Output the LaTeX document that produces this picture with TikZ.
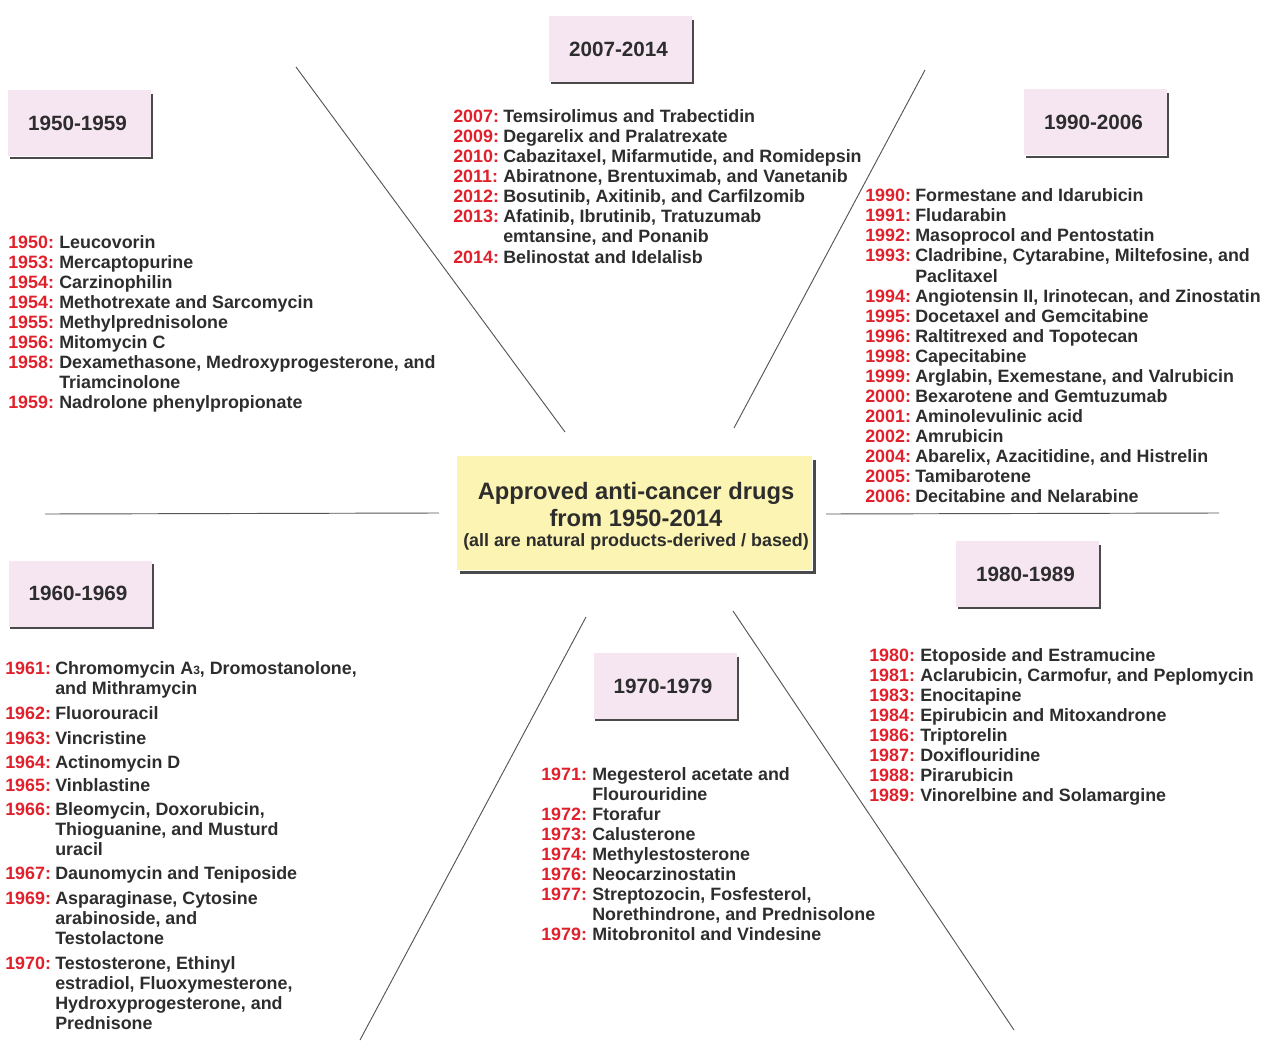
\documentclass[tikz,border=0pt]{standalone}
\usepackage{fontspec}
\setmainfont{Liberation Sans}
\definecolor{txt}{HTML}{2D2D2D}
\definecolor{yred}{HTML}{E0202B}
\definecolor{pinkbox}{HTML}{F6E6F2}
\definecolor{yelbox}{HTML}{FBF4B2}
\definecolor{shade}{HTML}{4A4A4A}
\definecolor{rule}{HTML}{555555}
\tikzset{
  yr/.style={anchor=base west, inner sep=0pt, yshift=-0.75pt, text=yred, font=\fontsize{13.4pt}{16pt}\selectfont\bfseries},
  nm/.style={anchor=base west, inner sep=0pt, yshift=-0.75pt, text=txt, font=\fontsize{13.4pt}{16pt}\selectfont\bfseries},
  period/.style={fill=pinkbox, draw=none, minimum width=107.25pt, minimum height=49.5pt, inner sep=0pt, text=txt, font=\fontsize{15.5pt}{18pt}\selectfont\bfseries},
  centre/.style={fill=yelbox, draw=none, minimum width=266.25pt, minimum height=85.5pt, inner sep=0pt},
  shadow/.style={draw=shade, line width=1.6pt},
  ray/.style={draw=rule, line width=0.7pt},
  title/.style={anchor=base, inner sep=0pt, text=txt, font=\fontsize{17.8pt}{20pt}\selectfont\bfseries},
}
\newcommand\entry[6]{%
  \node[yr] (#1y) at (#2,#4) {#5:};
  \node[nm] (#1) at (#3,#4) {#6};}
\newcommand\cont[4]{\node[nm] (#1) at (#2,#3) {#4};}
\begin{document}
\begin{tikzpicture}[x=0.75pt, y=-0.75pt]
\useasboundingbox (0,0) rectangle (1262,1041);

% radial lines
\draw[ray] (296,67) -- (565,432);
\draw[ray] (925,70) -- (734,428);
\draw[ray] (45,514) -- (439,513);
\draw[ray] (826,514) -- (1219,513);
\draw[ray] (586,617) -- (360,1040);
\draw[ray] (733,611) -- (1014,1030);

% period boxes
\foreach \n/\x/\y/\t in {pA/620.5/49/2007-2014, pB/79.5/123.5/1950-1959, pC/1095.5/122.5/1990-2006, pD/80/593.5/1960-1969, pE/1027.5/574/1980-1989, pF/665/686/1970-1979}{
  \node[period] (\n) at (\x,\y) {\hspace*{-3pt}\t};
  \draw[shadow] ([shift={(1,4)}]\n.north east) -- ([shift={(1,1)}]\n.south east) -- ([shift={(2,1)}]\n.south west);
}

% centre box
\node[centre] (c) at (634.5,513) {};
\draw[shadow, line width=2.2pt] ([shift={(2,4)}]c.north east) -- ([shift={(2,2)}]c.south east) -- ([shift={(3,2)}]c.south west);
\node[title] (c1) at (636,499) {Approved anti-cancer drugs};
\node[title] (c2) at (636,526) {from 1950-2014};
\node[title, font=\fontsize{13.4pt}{16pt}\selectfont\bfseries] (c3) at (636,546) {(all are natural products-derived / based)};

% 2007-2014
\entry{a1}{453}{503}{122}{2007}{Temsirolimus and Trabectidin}
\entry{a2}{453}{503}{142}{2009}{Degarelix and Pralatrexate}
\entry{a3}{453}{503}{162}{2010}{Cabazitaxel, Mifarmutide, and Romidepsin}
\entry{a4}{453}{503}{182}{2011}{Abiratnone, Brentuximab, and Vanetanib}
\entry{a5}{453}{503}{202}{2012}{Bosutinib, Axitinib, and Carfilzomib}
\entry{a6}{453}{503}{222}{2013}{Afatinib, Ibrutinib, Tratuzumab}
\cont{a6b}{503}{242}{emtansine, and Ponanib}
\entry{a7}{453}{503}{262}{2014}{Belinostat and Idelalisb}

% 1950-1959
\entry{b1}{8}{59}{247}{1950}{Leucovorin}
\entry{b2}{8}{59}{267}{1953}{Mercaptopurine}
\entry{b3}{8}{59}{287}{1954}{Carzinophilin}
\entry{b4}{8}{59}{307}{1954}{Methotrexate and Sarcomycin}
\entry{b5}{8}{59}{327}{1955}{Methylprednisolone}
\entry{b6}{8}{59}{347}{1956}{Mitomycin C}
\entry{b7}{8}{59}{367}{1958}{Dexamethasone, Medroxyprogesterone, and}
\cont{b7b}{59}{387}{Triamcinolone}
\entry{b8}{8}{59}{407}{1959}{Nadrolone phenylpropionate}

% 1990-2006
\entry{c01}{865}{915}{201}{1990}{Formestane and Idarubicin}
\entry{c02}{865}{915}{221}{1991}{Fludarabin}
\entry{c03}{865}{915}{241}{1992}{Masoprocol and Pentostatin}
\entry{c04}{865}{915}{261}{1993}{Cladribine, Cytarabine, Miltefosine, and}
\cont{c04b}{915}{281}{Paclitaxel}
\entry{c05}{865}{915}{301}{1994}{Angiotensin II, Irinotecan, and Zinostatin}
\entry{c06}{865}{915}{321}{1995}{Docetaxel and Gemcitabine}
\entry{c07}{865}{915}{341}{1996}{Raltitrexed and Topotecan}
\entry{c08}{865}{915}{361}{1998}{Capecitabine}
\entry{c09}{865}{915}{381}{1999}{Arglabin, Exemestane, and Valrubicin}
\entry{c10}{865}{915}{401}{2000}{Bexarotene and Gemtuzumab}
\entry{c11}{865}{915}{421}{2001}{Aminolevulinic acid}
\entry{c12}{865}{915}{441}{2002}{Amrubicin}
\entry{c13}{865}{915}{461}{2004}{Abarelix, Azacitidine, and Histrelin}
\entry{c14}{865}{915}{481}{2005}{Tamibarotene}
\entry{c15}{865}{915}{501}{2006}{Decitabine and Nelarabine}

% 1960-1969
\entry{d1}{5}{55}{673}{1961}{Chromomycin A{\fontsize{9pt}{9pt}\selectfont 3}, Dromostanolone,}
\cont{d1b}{55}{693}{and Mithramycin}
\entry{d2}{5}{55}{718}{1962}{Fluorouracil}
\entry{d3}{5}{55}{743}{1963}{Vincristine}
\entry{d4}{5}{55}{767}{1964}{Actinomycin D}
\entry{d5}{5}{55}{790}{1965}{Vinblastine}
\entry{d6}{5}{55}{814}{1966}{Bleomycin, Doxorubicin,}
\cont{d6b}{55}{834}{Thioguanine, and Musturd}
\cont{d6c}{55}{854}{uracil}
\entry{d7}{5}{55}{878}{1967}{Daunomycin and Teniposide}
\entry{d8}{5}{55}{903}{1969}{Asparaginase, Cytosine}
\cont{d8b}{55}{923}{arabinoside, and}
\cont{d8c}{55}{943}{Testolactone}
\entry{d9}{5}{55}{968}{1970}{Testosterone, Ethinyl}
\cont{d9b}{55}{988}{estradiol, Fluoxymesterone,}
\cont{d9c}{55}{1008}{Hydroxyprogesterone, and}
\cont{d9d}{55}{1028}{Prednisone}

% 1980-1989
\entry{e1}{869}{920}{660}{1980}{Etoposide and Estramucine}
\entry{e2}{869}{920}{680}{1981}{Aclarubicin, Carmofur, and Peplomycin}
\entry{e3}{869}{920}{700}{1983}{Enocitapine}
\entry{e4}{869}{920}{720}{1984}{Epirubicin and Mitoxandrone}
\entry{e5}{869}{920}{740}{1986}{Triptorelin}
\entry{e6}{869}{920}{760}{1987}{Doxiflouridine}
\entry{e7}{869}{920}{780}{1988}{Pirarubicin}
\entry{e8}{869}{920}{800}{1989}{Vinorelbine and Solamargine}

% 1970-1979
\entry{f1}{541}{592}{779}{1971}{Megesterol acetate and}
\cont{f1b}{592}{799}{Flourouridine}
\entry{f2}{541}{592}{819}{1972}{Ftorafur}
\entry{f3}{541}{592}{839}{1973}{Calusterone}
\entry{f4}{541}{592}{859}{1974}{Methylestosterone}
\entry{f5}{541}{592}{879}{1976}{Neocarzinostatin}
\entry{f6}{541}{592}{899}{1977}{Streptozocin, Fosfesterol,}
\cont{f6b}{592}{919}{Norethindrone, and Prednisolone}
\entry{f7}{541}{592}{939}{1979}{Mitobronitol and Vindesine}
\end{tikzpicture}
\end{document}
